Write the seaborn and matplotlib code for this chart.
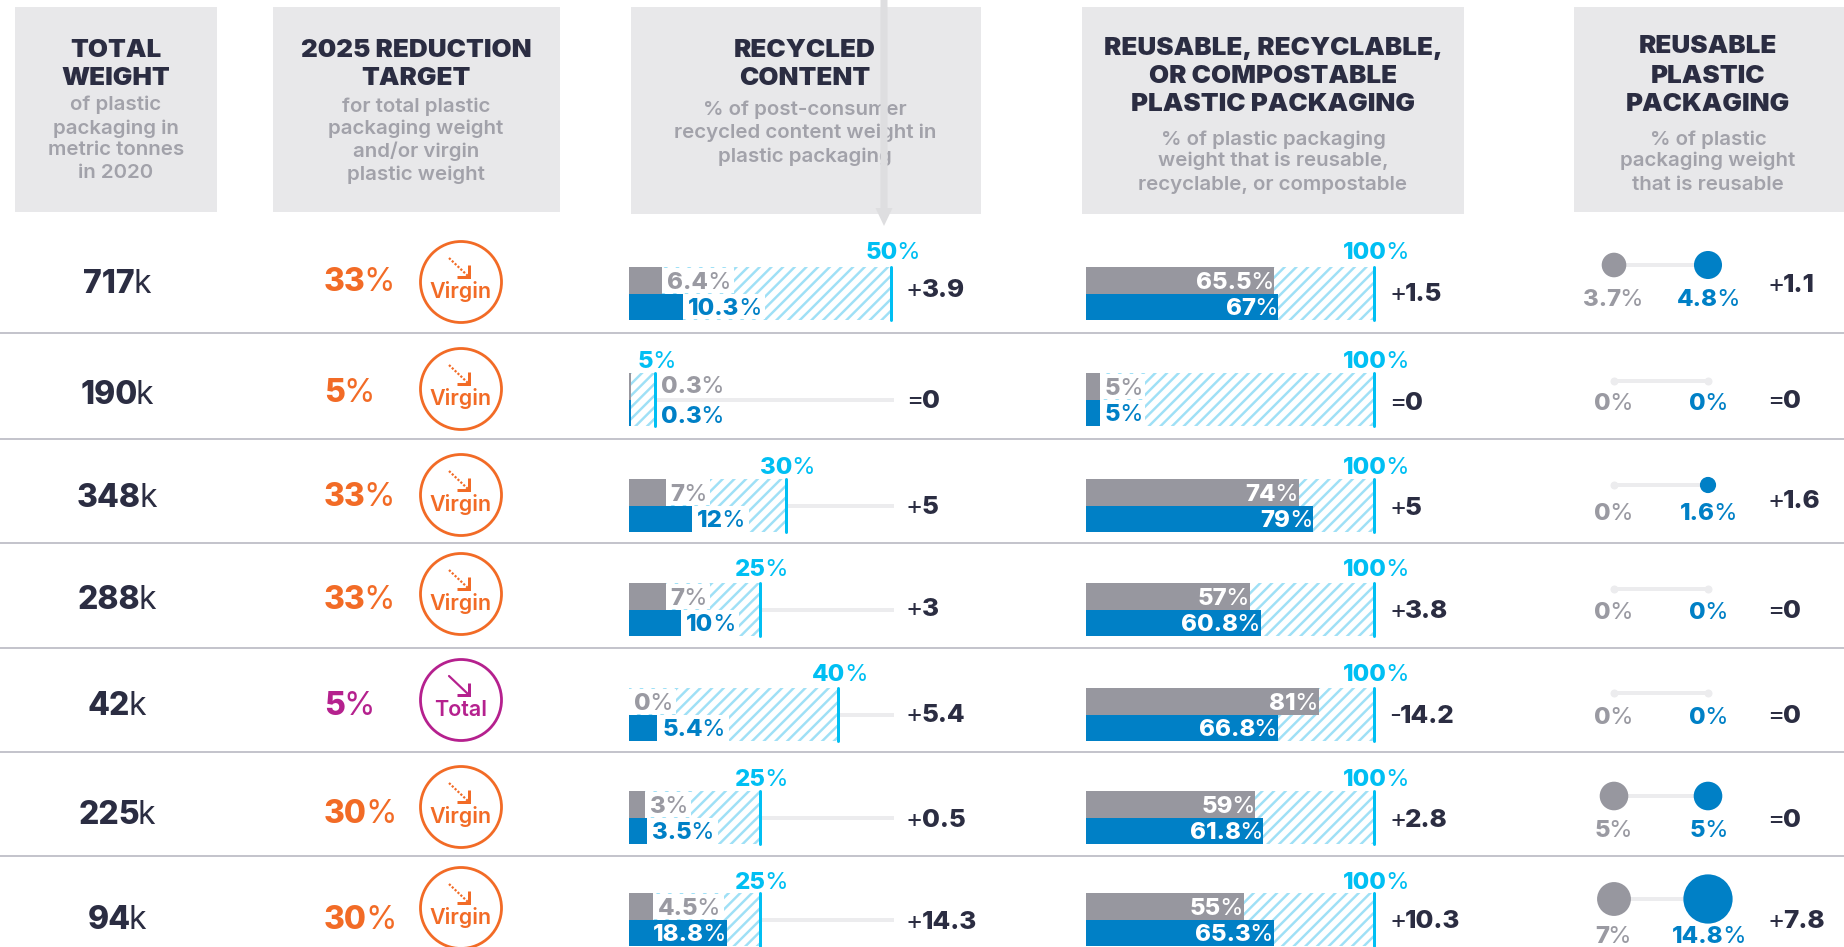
import matplotlib
matplotlib.use("Agg")
import matplotlib.pyplot as plt
from matplotlib.patches import Rectangle, Circle
import pandas as pd
import seaborn as sns

# ---------- data ----------
total_weight = [717, 190, 348, 288, 42, 225, 94]
reduction_target = [33, 5, 33, 33, 5, 30, 30]
reduction_type = ["Virgin", "Virgin", "Virgin", "Virgin", "Total", "Virgin", "Virgin"]

recycled_before = [6.4, 0.3, 7, 7, 0, 3, 4.5]
recycled_after = [10.3, 0.3, 12, 10, 5.4, 3.5, 18.8]
recycled_goal = [50, 5, 30, 25, 40, 25, 25]
recycled_change = ["+3.9", "=0", "+5", "+3", "+5.4", "+0.5", "+14.3"]

recyclable_before = [65.5, 5, 74, 57, 81, 59, 55]
recyclable_after = [67, 5, 79, 60.8, 66.8, 61.8, 65.3]
recyclable_goal = [100, 100, 100, 100, 100, 100, 100]
recyclable_change = ["+1.5", "=0", "+5", "+3.8", "-14.2", "+2.8", "+10.3"]

reusable_before = [3.7, 0, 0, 0, 0, 5, 7]
reusable_after = [4.8, 0, 1.6, 0, 0, 5, 14.8]
reusable_change = ["+1.1", "=0", "+1.6", "=0", "=0", "=0", "+7.8"]

header_titles = [
    ["TOTAL", "WEIGHT"],
    ["2025 REDUCTION", "TARGET"],
    ["RECYCLED", "CONTENT"],
    ["REUSABLE, RECYCLABLE,", "OR COMPOSTABLE", "PLASTIC PACKAGING"],
    ["REUSABLE", "PLASTIC", "PACKAGING"],
]
header_subtitles = [
    ["of plastic", "packaging in", "metric tonnes", "in 2020"],
    ["for total plastic", "packaging weight", "and/or virgin", "plastic weight"],
    ["% of post-consumer", "recycled content weight in", "plastic packaging"],
    ["% of plastic packaging", "weight that is reusable,", "recyclable, or compostable"],
    ["% of plastic", "packaging weight", "that is reusable"],
]

# ---------- style ----------
GREY, BLUE, CYAN, HATCH = "#97979f", "#0080c6", "#00bff3", "#9fe0f6"
DARK, SUB, ORANGE, MAGENTA = "#2b2d42", "#a2a2aa", "#f26b26", "#b5218e"
HEADBG, SEP, TRACK = "#e8e8ea", "#c4c4cc", "#ececee"
FONT = "Inter"
W, H, DPI = 1844, 947, 140

sns.set_theme(style="white")
plt.rcParams["font.family"] = [FONT, "DejaVu Sans"]
plt.rcParams["hatch.linewidth"] = 1.25


def pt(px):
    return px * 72 / DPI


fig = plt.figure(figsize=(W / DPI, H / DPI), dpi=DPI, facecolor="white")

# layout (pixels)
bar_top = [267, 373, 479, 583, 688, 791, 893]
BAR_H = 53
separators = [333, 439, 543, 648, 752, 856]
weight_y = [281, 392, 495, 597, 703, 812, 917]
target_y = [279, 390, 494, 597, 703, 811, 917]
circle_y = [282, 389, 495, 594, 700, 807, 908]
dumb_y = [265, 381, 485, 589, 693, 796, 899]
dumb_label_y = [297, 401, 511, 610, 715, 828, 934]
change1_y = [288, 399, 505, 607, 713, 818, 920]
change2_y = [292, 401, 506, 609, 714, 818, 919]
change3_y = [283, 399, 499, 609, 714, 818, 919]
goal_label_y = [250, 359, 465, 567, 672, 777, 880]

ov = fig.add_axes([0, 0, 1, 1], zorder=5)
ov.set_xlim(0, W)
ov.set_ylim(H, 0)
ov.set_axis_off()
ov.patch.set_alpha(0)
base = fig.add_axes([0, 0, 1, 1], zorder=0)
base.set_xlim(0, W)
base.set_ylim(H, 0)
base.set_axis_off()
renderer = fig.canvas.get_renderer()


def runs(x, y, parts, size, ha="left", zorder=5, ax=None):
    """parts = [(text, weight, colour)]; y = centre of the capitals; returns x0, x1."""
    ax = ax or ov
    arts, cur = [], x
    for s, weight, col in parts:
        t = ax.text(cur, y + 0.36 * size, s, fontsize=pt(size), fontweight=weight, color=col,
                    ha="left", va="baseline", zorder=zorder)
        ext = t.get_window_extent(renderer)
        cur += ext.width - 0.06 * size
        arts.append(t)
    total = cur - x
    shift = {"left": 0, "center": -total / 2, "right": -total}[ha]
    for t in arts:
        px, py = t.get_position()
        t.set_position((px + shift, py))
    return x + shift, x + shift + total


def bold_light(s, suffix, col, col2=None):
    return [(s, "heavy", col), (suffix, "normal", col2 or col)]


def fmt(v):
    return f"{v:g}"


# ---------- headers ----------
boxes = [(15, 217, 212), (273, 559.5, 212), (630.5, 981, 214), (1082, 1464, 214), (1573.5, 1844, 212)]
centres = [116, 416, 805, 1273, 1708]
title_ys = [[48, 76], [48, 76], [48, 76], [46, 74, 102], [44, 74, 102]]
sub_ys = [[103, 127, 148, 171], [105, 127, 150, 173], [108, 131, 155], [138, 159, 183], [138, 159, 183]]
for (x0, x1, yb), cx, titles, subs, tys, sys_ in zip(boxes, centres, header_titles, header_subtitles, title_ys, sub_ys):
    base.add_patch(Rectangle((x0, 7), x1 - x0, yb - 7, fc=HEADBG, ec="none"))
    for s, y in zip(titles, tys):
        base.text(cx, y + 9, s, fontsize=pt(26), fontweight="black", color=DARK, ha="center", va="baseline")
    for s, y in zip(subs, sys_):
        base.text(cx, y + 6.5, s, fontsize=pt(20.5), fontweight="semibold", color=SUB, ha="center", va="baseline")

# grey arrow over the recycled header
ov.fill([880.5, 887.5, 887.5, 892.5, 884, 875.5, 880.5], [0, 0, 208, 208, 226, 208, 208],
        color="#dedee0", lw=0, zorder=6)

for y in separators:
    base.plot([0, W], [y, y], color=SEP, lw=pt(2), solid_capstyle="butt")


# ---------- bar panels ----------
def panel(x0, scale, xmax, top, before, after, goal):
    ax = fig.add_axes([x0 / W, 1 - (top + BAR_H) / H, xmax * scale / W, BAR_H / H], zorder=2)
    ax.patch.set_alpha(0)
    frame = pd.DataFrame({"series": ["before", "after"], "value": [before, after], "goal": [goal, goal]})
    sns.barplot(data=frame, x="goal", y="series", color="white", width=1, saturation=1, ax=ax)
    for p in ax.patches:
        p.set_hatch("////")
        p.set_edgecolor(HATCH)
        p.set_linewidth(0)
    sns.barplot(data=frame, x="value", y="series", hue="series", dodge=False, width=1, saturation=1,
                palette={"before": GREY, "after": BLUE}, legend=False, linewidth=0, ax=ax)
    if goal < xmax - 3:
        ax.plot([goal, xmax], [0.5, 0.5], color=TRACK, lw=pt(4), solid_capstyle="butt", zorder=1)
    ax.axvline(goal, color=CYAN, lw=pt(3), zorder=4, clip_on=False)
    ax.set_xlim(0, xmax)
    ax.set_ylim(1.5, -0.5)
    ax.set_axis_off()
    return ax


def halo(x0, x1, top, lane):
    y0 = top + 0.5 if lane == 0 else top + BAR_H / 2 + 0.5
    ax_h = BAR_H / 2 - 1
    fig.add_artist(Rectangle((x0 / W, 1 - (y0 + ax_h) / H), (x1 - x0) / W, ax_h / H, fc="white", ec="none",
                             transform=fig.transFigure, zorder=3))


LABEL = 24
CHANGE = 26


def change_parts(s):
    return [(s[0], "normal", DARK), (s[1:], "heavy", DARK)]


for i in range(7):
    top = bar_top[i]
    lanes = [top + BAR_H / 4, top + 3 * BAR_H / 4]

    # recycled content
    s1, x1 = 5.234, 629
    ax = panel(x1, s1, 50.6, top, recycled_before[i], recycled_after[i], recycled_goal[i])
    goal_px = x1 + recycled_goal[i] * s1
    runs(goal_px + 1, goal_label_y[i], bold_light(fmt(recycled_goal[i]), "%", CYAN), 24, ha="center")
    runs(906, change1_y[i], change_parts(recycled_change[i]), CHANGE)
    for lane, (v, col) in enumerate([(recycled_before[i], "#9a9aa2"), (recycled_after[i], BLUE)]):
        end = x1 + v * s1
        if v > 15:
            runs(end - 3, lanes[lane], bold_light(fmt(v), "%", "white"), LABEL, ha="right")
        elif goal_px < end + 30:
            runs(goal_px + 6, lanes[lane] - 2 + 4 * lane, bold_light(fmt(v), "%", col), LABEL)
        else:
            a, b = runs(end + 5, lanes[lane], bold_light(fmt(v), "%", col), LABEL)
            halo(end, b + 5, top, lane)

    # reusable / recyclable / compostable
    s2, x2 = 2.88, 1085.5
    ax = panel(x2, s2, 100.5, top, recyclable_before[i], recyclable_after[i], recyclable_goal[i])
    runs(1375, goal_label_y[i], bold_light(fmt(recyclable_goal[i]), "%", CYAN), 24, ha="center")
    runs(1389, change2_y[i], change_parts(recyclable_change[i]), CHANGE)
    for lane, (v, col) in enumerate([(recyclable_before[i], "#9a9aa2"), (recyclable_after[i], BLUE)]):
        end = x2 + v * s2
        if v > 15:
            runs(end - 2, lanes[lane], bold_light(fmt(v), "%", "white"), LABEL, ha="right")
        else:
            a, b = runs(end + 5, lanes[lane], bold_light(fmt(v), "%", col), LABEL)
            halo(end, b + 4, top, lane)

    # total weight and reduction target
    runs(116, weight_y[i], [(str(total_weight[i]), "heavy", DARK), ("k", "normal", DARK)], 32, ha="center")
    col = ORANGE if reduction_type[i] == "Virgin" else MAGENTA
    runs(324, target_y[i], bold_light(str(reduction_target[i]), "%", col), 32)
    cy = circle_y[i]
    ov.add_patch(Circle((461, cy), 40.5, fc="none", ec=col, lw=pt(2.8)))
    ov.plot([449, 468], [cy - 24, cy - 6], color=col, lw=pt(2.2),
            ls=(0, (1, 0.8)) if reduction_type[i] == "Virgin" else "-")
    ov.plot([468.5, 468.5, 457], [cy - 17, cy - 5, cy - 5], color=col, lw=pt(3), solid_capstyle="butt",
            solid_joinstyle="miter")
    ov.text(461, cy + 16, reduction_type[i], fontsize=pt(21.5), fontweight="semibold", color=col, ha="center",
            va="baseline")

    # reusable labels
    runs(1612.5, dumb_label_y[i], bold_light(fmt(reusable_before[i]), "%", "#9a9aa2"), LABEL, ha="center")
    runs(1708, dumb_label_y[i], bold_light(fmt(reusable_after[i]), "%", BLUE), LABEL, ha="center")
    runs(1767, change3_y[i], change_parts(reusable_change[i]), CHANGE)

# ---------- dumbbells ----------
dumb = pd.DataFrame({
    "x": [1614] * 7 + [1708] * 7,
    "y": dumb_y * 2,
    "value": reusable_before + reusable_after,
    "series": ["before"] * 7 + ["after"] * 7,
})
for y in dumb_y:
    ov.plot([1614, 1708], [y, y], color=TRACK, lw=pt(4), zorder=1, solid_capstyle="butt")
zero = dumb[dumb["value"] == 0]
sns.scatterplot(data=zero, x="x", y="y", color=TRACK, s=pt(8) ** 2, linewidth=0, legend=False, zorder=2, ax=ov)
nonzero = dumb[dumb["value"] > 0]
smax = (2 * 6.4 * pt(1)) ** 2 * 14.8
sns.scatterplot(data=nonzero, x="x", y="y", hue="series", palette={"before": GREY, "after": BLUE},
                size="value", sizes=(smax * nonzero["value"].min() / 14.8, smax), size_norm=(nonzero["value"].min(), 14.8),
                linewidth=0, legend=False, zorder=3, ax=ov)
ov.set_xlim(0, W)
ov.set_ylim(H, 0)
ov.set_axis_off()

fig.savefig("out.png", dpi=DPI, facecolor="white")
